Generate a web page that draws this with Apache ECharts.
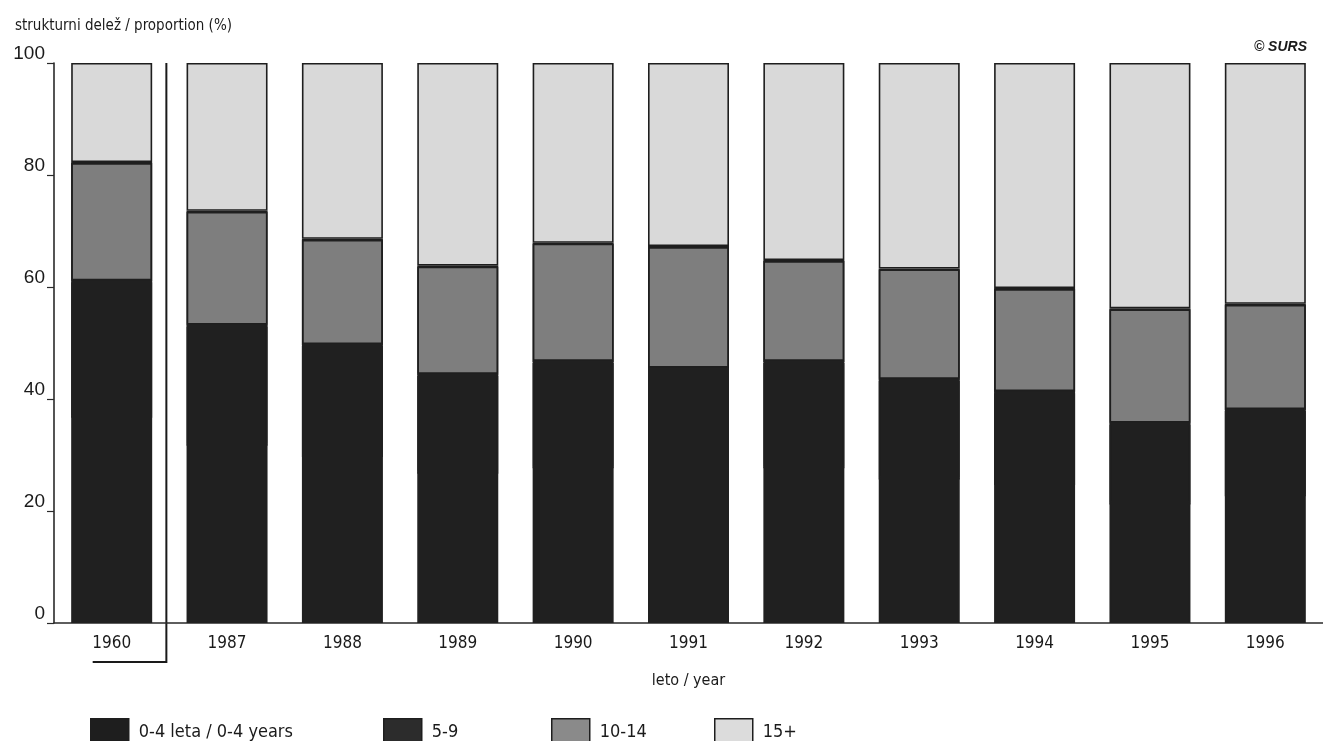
<!DOCTYPE html>
<html>
<head>
<meta charset="utf-8">
<script src="https://cdn.jsdelivr.net/npm/echarts@6/dist/echarts.min.js"></script>
<style>
html,body{margin:0;padding:0;background:#ffffff;}
#chart{width:1323px;height:741px;}
</style>
</head>
<body>
<div id="chart"></div>
<script>
// Categories (years)
const years = ['1960','1987','1988','1989','1990','1991','1992','1993','1994','1995','1996'];
// Shares in % (0-4 and 5-9 are printed in almost identical dark tones)
const age0_4   = [37.0, 32.0, 30.0, 27.0, 28.0, 27.5, 28.0, 26.0, 25.0, 21.5, 23.0];
const age5_9   = [24.2, 21.3, 19.8, 17.5, 18.8, 18.1, 18.8, 17.6, 16.4, 14.3, 15.2];
const age10_14 = [21.1, 20.3, 18.8, 19.3, 21.1, 21.7, 18.0, 19.7, 18.4, 20.4, 18.8];
const age15p   = [17.7, 26.4, 31.4, 36.2, 32.1, 32.7, 35.2, 36.7, 40.2, 43.8, 43.0];
// Y tick labels
const yTicks = [0, 20, 40, 60, 80, 100];

const seriesNames = ['0-4 leta / 0-4 years', '5-9', '10-14', '15+'];
const seriesData = [age0_4, age5_9, age10_14, age15p];
const seriesColors = ['#202020', '#202020', '#7e7e7e', '#d9d9d9'];
const seriesBorders = ['#202020', '#202020', '#1e1e1e', '#1e1e1e'];
const seriesShadow = [0, 2, 1, 0];
const legendColors = ['#1e1e1e', '#2c2c2c', '#8a8a8a', '#dcdcdc'];

const narrow = '"Liberation Sans Narrow", "DejaVu Sans Condensed", "Roboto Condensed", "Liberation Sans", sans-serif';
const chart = echarts.init(document.getElementById('chart'), null, {renderer: 'canvas'});

const series = seriesNames.map((n, i) => ({
  name: n,
  type: 'bar',
  stack: 'total',
  barWidth: 81,
  data: seriesData[i],
  itemStyle: {
    color: seriesColors[i], borderColor: seriesBorders[i], borderWidth: 1.6,
    shadowColor: seriesShadow[i] ? '#202020' : 'rgba(0,0,0,0)', shadowBlur: 0,
    shadowOffsetX: 0, shadowOffsetY: seriesShadow[i]
  },
  emphasis: {disabled: true},
  animation: false
}));

const legendLefts = [85, 378, 546, 709];
const legends = seriesNames.map((n, i) => ({
  data: [{name: n, itemStyle: {color: legendColors[i], borderColor: '#1e1e1e', borderWidth: 1.5,
          shadowColor: 'rgba(0,0,0,0)', shadowOffsetY: 0, shadowBlur: 0}}],
  left: legendLefts[i],
  top: 713,
  itemWidth: 38,
  itemHeight: 28,
  itemGap: 0,
  icon: 'rect',
  selectedMode: false,
  textStyle: {fontFamily: narrow, fontSize: 18, color: '#1a1a1a', padding: [0, 0, 0, 5]}
}));

chart.setOption({
  backgroundColor: '#ffffff',
  animation: false,
  title: [
    {text: 'strukturni delež / proportion (%)', left: 10, top: 14,
     textStyle: {fontFamily: narrow, fontSize: 15, fontWeight: 'normal', color: '#1a1a1a'}},
    {text: '© SURS', right: 11, top: 35,
     textStyle: {fontFamily: '"Liberation Sans", Arial, sans-serif', fontSize: 14, fontStyle: 'italic', fontWeight: 'bold', color: '#1a1a1a'}}
  ],
  legend: legends,
  grid: {left: 54, right: -8, top: 63, bottom: 118, containLabel: false},
  xAxis: {
    type: 'category',
    data: years,
    name: 'leto / year',
    nameLocation: 'middle',
    nameGap: 50,
    nameTextStyle: {fontFamily: narrow, fontSize: 16, color: '#1a1a1a'},
    axisLine: {lineStyle: {color: '#2a2a2a', width: 1.6}},
    axisTick: {show: false},
    axisLabel: {fontFamily: narrow, fontSize: 17, color: '#1a1a1a', margin: 12}
  },
  yAxis: {
    type: 'value',
    min: 0, max: 100, interval: 20,
    axisLine: {show: true, lineStyle: {color: '#2a2a2a', width: 1.6}},
    axisTick: {show: true, length: 7, lineStyle: {color: '#2a2a2a', width: 1.2}},
    splitLine: {show: false},
    axisLabel: {
      fontFamily: '"Liberation Sans", Arial, sans-serif', fontSize: 19, color: '#1a1a1a',
      margin: 9, verticalAlign: 'bottom',
      formatter: v => yTicks.includes(v) ? String(v) : ''
    }
  },
  series: series
});

// Separator bracket between 1960 and 1987, positioned through the axis scales
const c0 = chart.convertToPixel({xAxisIndex: 0}, years[0]);
const c1 = chart.convertToPixel({xAxisIndex: 0}, years[1]);
const yTop = chart.convertToPixel({yAxisIndex: 0}, 100);
const sepX = (c0 + c1) / 2 - 3;
chart.setOption({
  graphic: [
    {type: 'polyline', silent: true,
     shape: {points: [[sepX, yTop], [sepX, 662], [c0 - 19, 662]]},
     style: {stroke: '#1a1a1a', lineWidth: 2, fill: null}}
  ]
});
</script>
</body>
</html>
